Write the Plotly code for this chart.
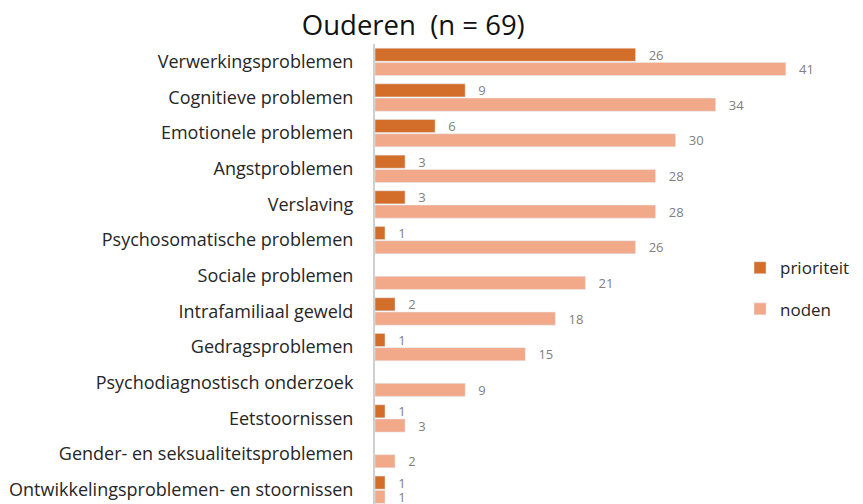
import plotly.graph_objects as go

categories = ["Verwerkingsproblemen", "Cognitieve problemen", "Emotionele problemen",
              "Angstproblemen", "Verslaving", "Psychosomatische problemen",
              "Sociale problemen", "Intrafamiliaal geweld", "Gedragsproblemen",
              "Psychodiagnostisch onderzoek", "Eetstoornissen",
              "Gender- en seksualiteitsproblemen", "Ontwikkelingsproblemen- en stoornissen"]
prioriteit = [26, 9, 6, 3, 3, 1, None, 2, 1, None, 1, None, 1]
noden = [41, 34, 30, 28, 28, 26, 21, 18, 15, 9, 3, 2, 1]

FONT = "Open Sans"
SP = "\u00a0\u00a0\u00a0"
fig = go.Figure()
for name, vals, col, grp in [("prioriteit", prioriteit, "#D36D2A", "a"),
                             ("noden", noden, "#F1A98A", "b")]:
    fig.add_trace(go.Bar(name=name, y=categories, x=vals, orientation="h",
                         marker=dict(color=col), text=vals,
                         texttemplate=SP + "%{x}", textposition="outside",
                         constraintext="none",
                         textfont=dict(color="#808080", size=13, family=FONT),
                         cliponaxis=False, legendgroup=grp))

fig.update_layout(
    width=855, height=496,
    margin=dict(l=367, r=0, t=36, b=0),
    paper_bgcolor="white", plot_bgcolor="white",
    barmode="group", bargap=0.2, bargroupgap=0.08,
    title=dict(text="Ouderen  (n = 69)", x=0.474, xanchor="center", y=0.964, yanchor="middle",
               font=dict(family=FONT, size=27.5, color="#111111")),
    font=dict(family=FONT, color="#262626"),
    legend=dict(x=0.748, y=0.468, xanchor="left", yanchor="middle", traceorder="grouped",
                tracegroupgap=16, font=dict(size=17, color="#262626"),
                bgcolor="rgba(0,0,0,0)"),
    xaxis=dict(range=[0, 48.7], visible=False, showgrid=False, automargin=False),
    yaxis=dict(type="category", range=[12.4, -0.5], showgrid=False, automargin=False,
               showline=True, linecolor="#D0D0D0", linewidth=2,
               ticks="outside", ticklen=16, tickcolor="rgba(0,0,0,0)",
               tickfont=dict(size=18, color="#262626", family=FONT)),
)
fig.write_html("out.html")
